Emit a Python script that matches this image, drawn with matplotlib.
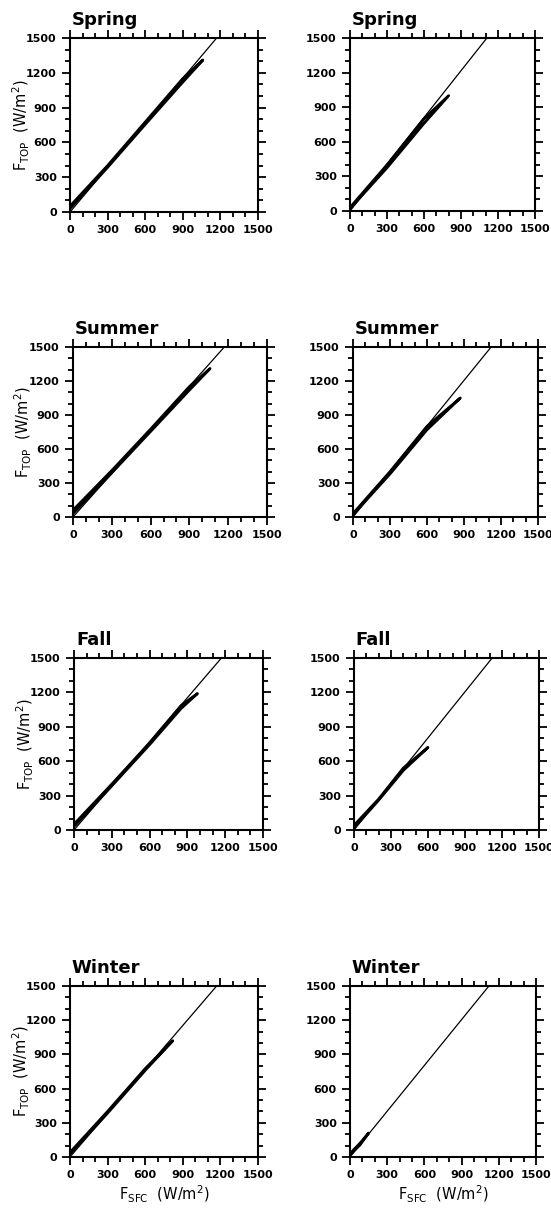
import matplotlib
matplotlib.use("Agg")
import matplotlib.pyplot as plt
from matplotlib.ticker import MultipleLocator

# panel titles (two columns per season)
seasons = ["Spring", "Spring", "Summer", "Summer", "Fall", "Fall", "Winter", "Winter"]

# thin reference line: from origin to where it meets F_TOP = 1500
ref_end_x = [1170, 1110, 1170, 1120, 1170, 1120, 1170, 1120]
ref_top = 1500

# data loops (F_SFC, F_TOP)
sfc_data = [
    [0, 300, 600, 900, 1060, 900, 600, 300, 0],
    [0, 300, 600, 800, 600, 300, 0],
    [0, 300, 600, 900, 1060, 900, 600, 300, 0],
    [0, 300, 600, 870, 600, 300, 0],
    [0, 300, 600, 850, 980, 850, 600, 300, 0],
    [0, 200, 400, 600, 400, 200, 0],
    [0, 300, 600, 820, 600, 300, 0],
    [0, 80, 150, 80, 0],
]
top_data = [
    [50, 400, 775, 1150, 1310, 1120, 755, 385, 30],
    [30, 400, 800, 1000, 760, 375, 20],
    [60, 410, 775, 1150, 1310, 1120, 755, 390, 30],
    [30, 400, 800, 1050, 770, 380, 20],
    [50, 400, 760, 1085, 1190, 1060, 745, 385, 30],
    [40, 270, 540, 720, 520, 260, 20],
    [40, 400, 775, 1020, 760, 385, 25],
    [30, 120, 210, 105, 20],
]

ticks = [0, 300, 600, 900, 1200, 1500]

# panel boxes in pixels: left, right, top, bottom
W, H = 551, 1211
boxes = [
    (70, 258, 38, 212), (350, 535, 38, 211),
    (73, 267, 347, 517), (353, 538, 347, 517),
    (74, 263, 658, 830), (354, 539, 658, 830),
    (70, 258, 986, 1157), (350, 536, 986, 1157),
]

fig = plt.figure(figsize=(W / 100, H / 100), dpi=100)
plt.rcParams["font.family"] = ["DejaVu Sans"]

for i, (l, r, t, b) in enumerate(boxes):
    ax = fig.add_axes([l / W, 1 - b / H, (r - l) / W, (b - t) / H])
    ax.plot([0, ref_end_x[i]], [0, ref_top], color="black", lw=0.9)
    ax.plot(sfc_data[i], top_data[i], color="black", lw=2.0, solid_joinstyle="round")
    ax.set_xlim(0, 1500)
    ax.set_ylim(0, 1500)
    ax.set_xticks(ticks)
    ax.set_yticks(ticks)
    ax.xaxis.set_minor_locator(MultipleLocator(100))
    ax.yaxis.set_minor_locator(MultipleLocator(100))
    ax.tick_params(which="both", direction="out", top=True, right=True,
                   width=1.3, labelsize=8)
    ax.tick_params(which="major", length=6)
    ax.tick_params(which="minor", length=3.5)
    for lab in ax.get_xticklabels() + ax.get_yticklabels():
        lab.set_fontweight("bold")
    for sp in ax.spines.values():
        sp.set_linewidth(1.5)
    ax.text(0.01, 1.075, seasons[i], transform=ax.transAxes, fontsize=13,
            fontweight="bold", ha="left", va="baseline")
    if i % 2 == 0:
        ax.set_ylabel(r"F$_{\mathregular{TOP}}$  (W/m$^{\mathregular{2}}$)",
                      fontsize=10.5)
        ax.yaxis.set_label_coords(-0.2, 0.5)
    if i >= 6:
        ax.set_xlabel(r"F$_{\mathregular{SFC}}$  (W/m$^{\mathregular{2}}$)",
                      fontsize=10.5, labelpad=3)

fig.savefig("out.png", dpi=100)
